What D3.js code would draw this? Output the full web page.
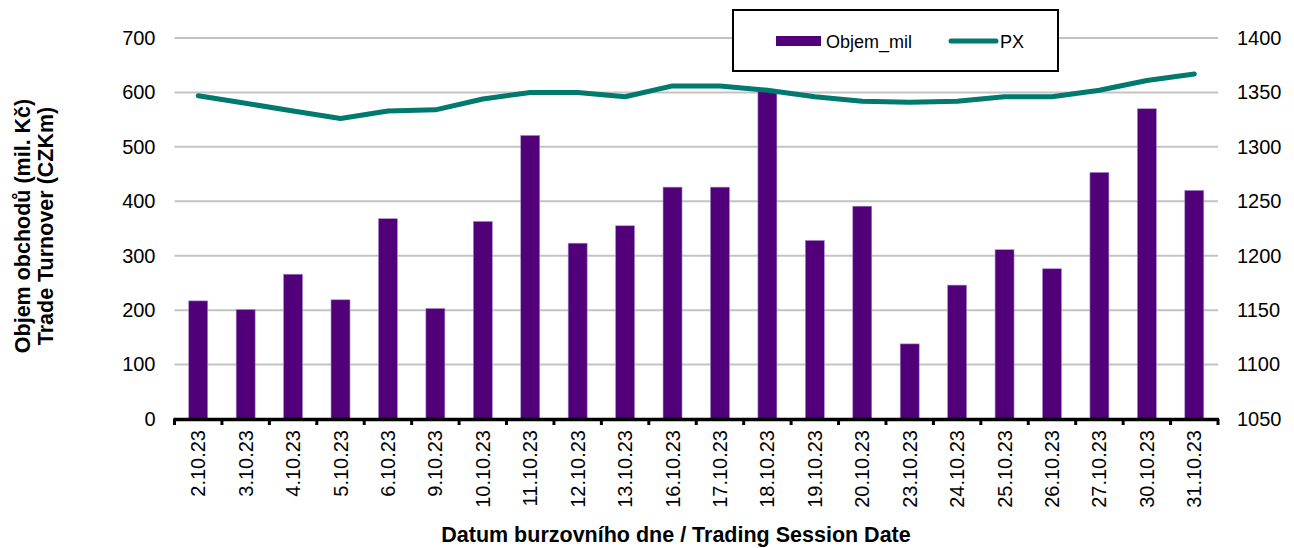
<!DOCTYPE html>
<html>
<head>
<meta charset="utf-8">
<script src="https://cdn.jsdelivr.net/npm/d3@7"></script>
<style>
  body { margin: 0; background: #fff; }
  svg { display: block; font-family: Arial, "Liberation Sans", sans-serif; }
</style>
</head>
<body>
<svg id="chart"></svg>
<script>
// chart values
const dates = ["2.10.23", "3.10.23", "4.10.23", "5.10.23", "6.10.23", "9.10.23", "10.10.23", "11.10.23",
    "12.10.23", "13.10.23", "16.10.23", "17.10.23", "18.10.23", "19.10.23", "20.10.23", "23.10.23",
    "24.10.23", "25.10.23", "26.10.23", "27.10.23", "30.10.23", "31.10.23"];
const objem = [217, 201, 266, 219, 368, 203, 363, 521, 323, 355, 426, 426, 605, 328, 391, 138,
    246, 311, 276, 453, 570, 420];
const px = [1347, 1340, 1333, 1326, 1333, 1334, 1344, 1350, 1350, 1346, 1356, 1356, 1352, 1346, 1342, 1341,
    1342, 1346, 1346, 1352, 1361, 1367];
const leftTicks = [0, 100, 200, 300, 400, 500, 600, 700];
const rightTicks = [1050, 1100, 1150, 1200, 1250, 1300, 1350, 1400];

const W = 1294, H = 548;
const margin = { top: 38, right: 76, bottom: 129, left: 174.5 };
const width = W - margin.left - margin.right,
    height = H - margin.top - margin.bottom;

const purple = "#510079", teal = "#00796f";
const font = "Arial, 'Liberation Sans', sans-serif";

const svg = d3.select("#chart").attr("width", W).attr("height", H);
const g = svg.append("g").attr("transform", `translate(${margin.left},${margin.top})`);

const x = d3.scaleBand().domain(dates).range([0, width]).padding(0);
const yL = d3.scaleLinear().domain([0, 700]).range([height, 0]);
const yR = d3.scaleLinear().domain([1050, 1400]).range([height, 0]);

// gridlines
g.append("g")
    .selectAll("line")
    .data(leftTicks.slice(1))
    .join("line")
    .attr("x1", 0).attr("x2", width)
    .attr("y1", d => yL(d)).attr("y2", d => yL(d))
    .attr("stroke", "#c3c3c3")
    .attr("stroke-width", 2);

// left axis
const axL = g.append("g").call(d3.axisLeft(yL).tickValues(leftTicks).tickSize(0).tickPadding(19));
axL.select(".domain").remove();
axL.selectAll("text").style("font-size", "20px").attr("fill", "#000").attr("font-family", font);

// right axis
const axR = g.append("g").attr("transform", `translate(${width},0)`)
    .call(d3.axisRight(yR).tickValues(rightTicks).tickFormat(d3.format("d")).tickSize(0).tickPadding(19));
axR.select(".domain").remove();
axR.selectAll("text").style("font-size", "20px").attr("fill", "#000").attr("font-family", font);

// bars
const bw = x.bandwidth() * 0.4;
g.append("g")
    .selectAll("rect")
    .data(dates.map((d, i) => ({ date: d, v: objem[i] })))
    .join("rect")
    .attr("x", d => x(d.date) + (x.bandwidth() - bw) / 2)
    .attr("width", bw)
    .attr("y", d => yL(d.v))
    .attr("height", d => yL(0) - yL(d.v))
    .attr("fill", purple)
    .attr("stroke", "#a38cc6")
    .attr("stroke-width", 0.6);

// bottom axis
const axB = g.append("g").attr("transform", `translate(0,${height})`)
    .call(d3.axisBottom(x).tickSize(0).tickPadding(11));
axB.select(".domain").remove();
axB.selectAll("text")
    .style("font-size", "20px")
    .attr("fill", "#000")
    .attr("font-family", font)
    .attr("transform", "rotate(-90)")
    .attr("x", -11).attr("y", 0).attr("dy", "0.35em")
    .style("text-anchor", "end");
g.append("line")
    .attr("x1", -1).attr("x2", width + 1)
    .attr("y1", height + 0.5).attr("y2", height + 0.5)
    .attr("stroke", "#000").attr("stroke-width", 3.5);
g.append("g")
    .selectAll("line")
    .data(d3.range(dates.length + 1))
    .join("line")
    .attr("x1", i => i * x.step()).attr("x2", i => i * x.step())
    .attr("y1", height).attr("y2", height + 6)
    .attr("stroke", "#000").attr("stroke-width", 3);

// PX line
const line = d3.line()
    .x((d, i) => x(dates[i]) + x.bandwidth() / 2)
    .y(d => yR(d));
g.append("path")
    .datum(px)
    .attr("d", line)
    .attr("fill", "none")
    .attr("stroke", teal)
    .attr("stroke-width", 5)
    .attr("stroke-linejoin", "round")
    .attr("stroke-linecap", "round");

// axis titles
const yTitle = svg.append("text")
    .attr("transform", `translate(34,${226}) rotate(-90)`)
    .attr("text-anchor", "middle")
    .style("font-size", "21.5px")
    .style("font-weight", "bold");
yTitle.append("tspan").attr("x", 0).attr("dy", "-0.2em").text("Objem obchodů (mil. Kč)");
yTitle.append("tspan").attr("x", 0).attr("dy", "1.07em").text("Trade Turnover (CZKm)");

svg.append("text")
    .attr("x", 676)
    .attr("y", 542)
    .attr("text-anchor", "middle")
    .style("font-size", "21.5px")
    .style("font-weight", "bold")
    .text("Datum burzovního dne / Trading Session Date");

// legend
const leg = svg.append("g");
leg.append("rect")
    .attr("x", 733).attr("y", 10).attr("width", 325).attr("height", 61)
    .attr("fill", "#fff").attr("stroke", "#000").attr("stroke-width", 2);
leg.append("rect")
    .attr("x", 776).attr("y", 36).attr("width", 45).attr("height", 10)
    .attr("fill", purple);
leg.append("text").attr("x", 826).attr("y", 48).style("font-size", "18px").text("Objem_mil");
leg.append("line")
    .attr("x1", 951).attr("x2", 996).attr("y1", 41).attr("y2", 41)
    .attr("stroke", teal).attr("stroke-width", 5).attr("stroke-linecap", "round");
leg.append("text").attr("x", 1000).attr("y", 48).style("font-size", "18px").text("PX");
</script>
</body>
</html>
